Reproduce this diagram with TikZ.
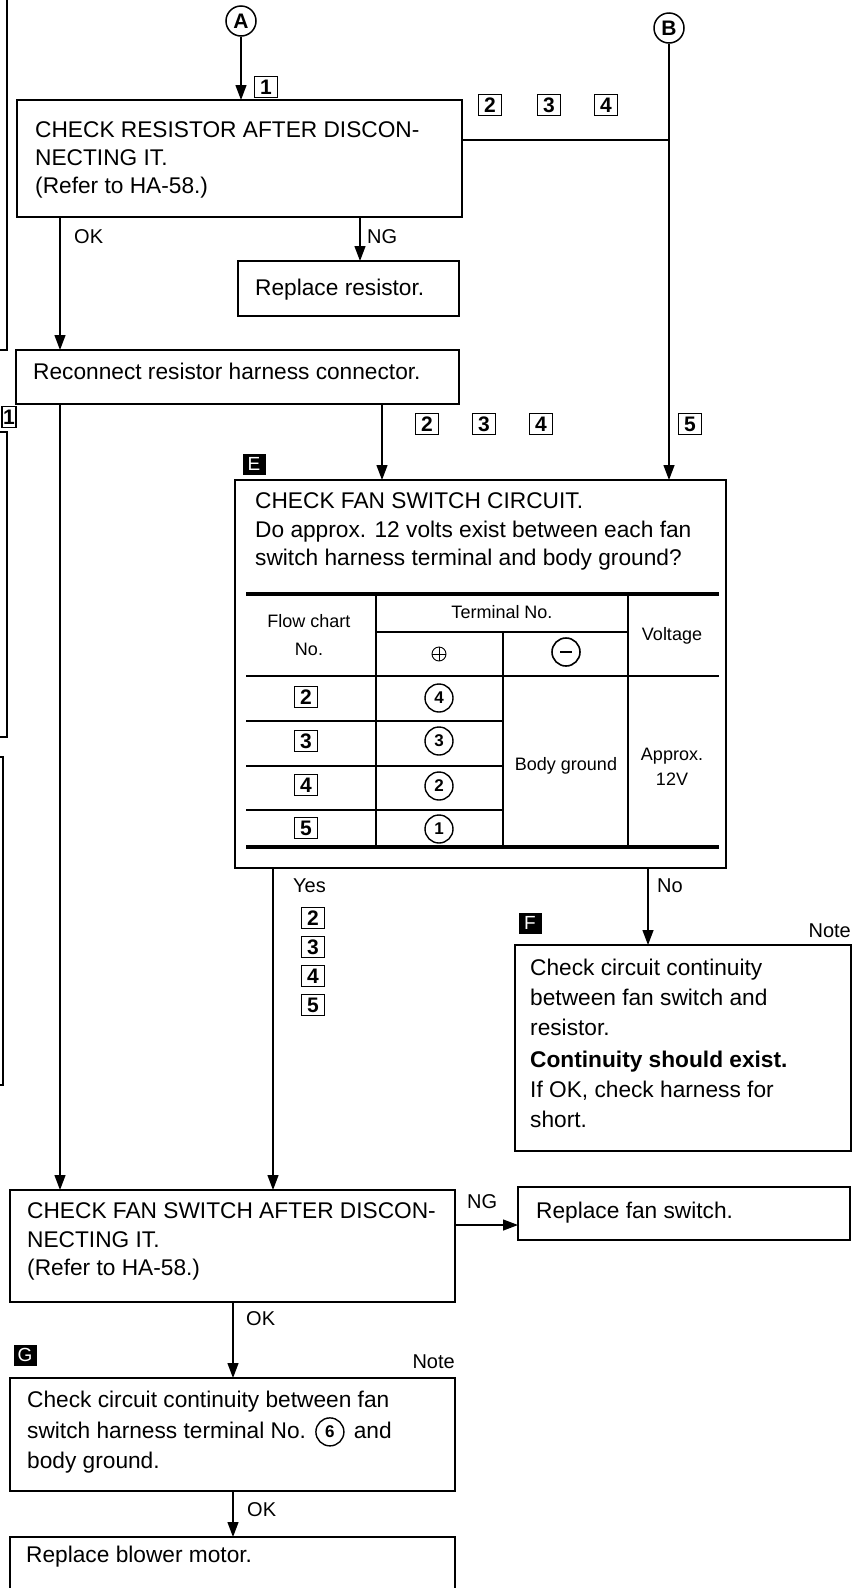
\documentclass[tikz,border=0pt]{standalone}
\usepackage{fontspec}
\setmainfont{Liberation Sans}
\usetikzlibrary{arrows.meta,calc}
\begin{document}
\begin{tikzpicture}[x=1pt,y=-1pt,
  box/.style={draw,line width=1.8pt,anchor=north west,inner sep=0pt,outer sep=0pt},
  txt/.style={anchor=base west,inner sep=0pt,font=\fontsize{22.7}{27}\selectfont},
  lbl/.style={anchor=base west,inner sep=0pt,font=\fontsize{20}{24}\selectfont},
  tbl/.style={inner sep=0pt,font=\fontsize{18}{22}\selectfont},
  num/.style={draw,line width=1.3pt,minimum width=23pt,minimum height=21pt,inner sep=0pt,font=\fontsize{21}{24}\selectfont\bfseries},
  blk/.style={fill=black,text=white,minimum width=23pt,minimum height=21pt,inner sep=0pt,font=\fontsize{19}{22}\selectfont},
  circ/.style={circle,draw,line width=1.5pt,minimum size=30pt,inner sep=0pt,font=\fontsize{21}{24}\selectfont\bfseries},
  cnum/.style={circle,draw,line width=1.4pt,minimum size=28pt,inner sep=0pt,font=\fontsize{17}{20}\selectfont\bfseries},
  arr/.style={line width=1.3pt,-{Triangle[length=15pt,width=11pt]}},
  ln/.style={line width=1.3pt},
  heavyrule/.style={line width=4pt},
  gridline/.style={line width=1.6pt},
  scanedge/.style={line width=1.5pt},
]
\fill[white] (0,0) rectangle (861,1588);
\useasboundingbox (0,0) rectangle (861,1588);
\clip (0,0) rectangle (861,1588);

% left margin brackets (scan edge)
\draw[scanedge] (0,350) -- (7,350) -- (7,0);
\draw[scanedge] (0,432) -- (7,432) -- (7,737) -- (0,737);
\draw[scanedge] (0,757) -- (3,757) -- (3,1085) -- (0,1085);

% connector circles
\node[circ] (A) at (241,21) {A};
\node[circ] (B) at (669,28) {B};

% boxes
\node[box,minimum width=445pt,minimum height=117pt] (b1) at (17,100) {};
\node[box,minimum width=221pt,minimum height=55pt] (rr) at (238,261) {};
\node[box,minimum width=443pt,minimum height=54pt] (rec) at (16,350) {};
\node[box,minimum width=491pt,minimum height=388pt] (E) at (235,480) {};
\node[box,minimum width=336pt,minimum height=206pt] (F) at (515,945) {};
\node[box,minimum width=445pt,minimum height=112pt] (fs) at (10,1190) {};
\node[box,minimum width=332pt,minimum height=53pt] (rfs) at (518,1187) {};
\node[box,minimum width=445pt,minimum height=113pt] (G) at (10,1378) {};
\node[box,minimum width=445pt,minimum height=70pt] (bm) at (10,1537) {};

% texts
\node[txt] (b1a) at (35,137) {CHECK RESISTOR AFTER DISCON-};
\node[txt] (b1b) at (35,165) {NECTING IT.};
\node[txt] (b1c) at (35,193) {(Refer to HA-58.)};
\node[txt] (rrt) at (255,295) {Replace resistor.};
\node[txt] (rect) at (33,379) {Reconnect resistor harness connector.};
\node[txt] (Ea) at (255,508) {CHECK FAN SWITCH CIRCUIT.};
\node[txt] (Eb) at (255,537) {Do approx. 12 volts exist between each fan};
\node[txt] (Ec) at (255,565) {switch harness terminal and body ground?};
\node[txt] (Fa) at (530,975) {Check circuit continuity};
\node[txt] (Fb) at (530,1005) {between fan switch and};
\node[txt] (Fc) at (530,1035) {resistor.};
\node[txt,font=\fontsize{22.7}{27}\selectfont\bfseries] (Fd) at (530,1067) {Continuity should exist.};
\node[txt] (Fe) at (530,1097) {If OK, check harness for};
\node[txt] (Ff) at (530,1127) {short.};
\node[txt] (fsa) at (27,1218) {CHECK FAN SWITCH AFTER DISCON-};
\node[txt] (fsb) at (27,1247) {NECTING IT.};
\node[txt] (fsc) at (27,1275) {(Refer to HA-58.)};
\node[txt] (rfst) at (536,1218) {Replace fan switch.};
\node[txt] (Ga) at (27,1407) {Check circuit continuity between fan};
\node[txt] (Gb) at (27,1438) {switch harness terminal No.};
\node[cnum,anchor=west] (G6) at ([xshift=9pt,yshift=-2pt]Gb.east) {6};
\node[txt] (Gc) at ([xshift=9pt]G6.east |- Gb.base) {and};
\node[txt] (Gd) at (27,1468) {body ground.};
\node[txt] (bmt) at (26,1562) {Replace blower motor.};

% branch labels
\node[lbl] (ok1) at (74,243) {OK};
\node[lbl] (ng1) at (367,243) {NG};
\node[lbl] (yes) at (293,892) {Yes};
\node[lbl] (no) at (657,892) {No};
\node[lbl] (ok2) at (246,1325) {OK};
\node[lbl] (ng2) at (467,1208) {NG};
\node[lbl] (ok3) at (247,1516) {OK};
\node[lbl,anchor=base east] (noteF) at (851,937) {Note};
\node[lbl,anchor=base east] (noteG) at (455,1368) {Note};

% number labels
\node[num] (n1a) at (266,87) {1};
\node[num] (n2a) at (490,105) {2};
\node[num] (n3a) at (549,105) {3};
\node[num] (n4a) at (606,105) {4};
\node[num,minimum width=14pt] (n1b) at (9,417) {1};
\node[num] (n2b) at (427,424) {2};
\node[num] (n3b) at (484,424) {3};
\node[num] (n4b) at (541,424) {4};
\node[num] (n5b) at (690,424) {5};
\node[num] (y2) at (313,918) {2};
\node[num] (y3) at (313,947) {3};
\node[num] (y4) at (313,976) {4};
\node[num] (y5) at (313,1005) {5};

% black labels
\node[blk] (LE) at (254,464) {E};
\node[blk] (LF) at (530,923) {F};
\node[blk] (LG) at (25,1355) {G};

% table
\draw[heavyrule] (246,594) -- (719,594);
\draw[heavyrule] (246,847) -- (719,847);
\draw[gridline] (376,632) -- (628,632);
\draw[gridline] (246,676) -- (719,676);
\draw[gridline] (246,721) -- (503,721);
\draw[gridline] (246,766) -- (503,766);
\draw[gridline] (246,810) -- (503,810);
\draw[gridline] (376,594) -- (376,847);
\draw[gridline] (503,632) -- (503,847);
\draw[gridline] (628,594) -- (628,847);
\node[tbl] (hfc) at (309,621) {Flow chart};
\node[tbl] (hno) at (309,649) {No.};
\node[tbl] (hterm) at (502,612) {Terminal No.};
\node[tbl] (hvolt) at (672,636) {Voltage};
\node[circle,draw,line width=0.9pt,minimum size=14pt,inner sep=0pt] (plus) at (439,654) {};
\draw[line width=0.9pt] (plus.north) -- (plus.south) (plus.west) -- (plus.east);
\node[circle,draw,line width=1.6pt,minimum size=28pt,inner sep=0pt] (minus) at (566,652) {};
\draw[line width=2.8pt] ($(minus.center)+(-6,0)$) -- ($(minus.center)+(6,0)$);
\node[num] (t2) at (306,697) {2};
\node[num] (t3) at (306,741) {3};
\node[num] (t4) at (306,785) {4};
\node[num] (t5) at (306,828) {5};
\node[cnum] (c4) at (439,698) {4};
\node[cnum] (c3) at (439,741) {3};
\node[cnum] (c2) at (439,786) {2};
\node[cnum] (c1) at (439,829) {1};
\node[tbl] (bg) at (566,766) {Body ground};
\node[tbl] (ap) at (672,756) {Approx.};
\node[tbl] (v12) at (672,779) {12V};

% connectors
\coordinate (xok) at (60,0);
\coordinate (xng) at (360,0);
\coordinate (xe) at (382,0);
\coordinate (xyes) at (273,0);
\coordinate (xno) at (648,0);
\coordinate (xg) at (233,0);
\coordinate (yng) at (0,1225);
\coordinate (yh) at (0,140);
\draw[arr] (A) -- (A |- b1.north);
\draw[arr] (B) -- (B |- E.north);
\draw[ln] (b1.east |- yh) -- (B |- yh);
\draw[arr] (b1.south -| xok) -- (rec.north -| xok);
\draw[arr] (b1.south -| xng) -- (rr.north -| xng);
\draw[arr] (rec.south -| xok) -- (fs.north -| xok);
\draw[arr] (rec.south -| xe) -- (E.north -| xe);
\draw[arr] (E.south -| xyes) -- (fs.north -| xyes);
\draw[arr] (E.south -| xno) -- (F.north -| xno);
\draw[arr] (fs.east |- yng) -- (rfs.west |- yng);
\draw[arr] (fs.south -| xg) -- (G.north -| xg);
\draw[arr] (G.south -| xg) -- (bm.north -| xg);
\end{tikzpicture}
\end{document}
